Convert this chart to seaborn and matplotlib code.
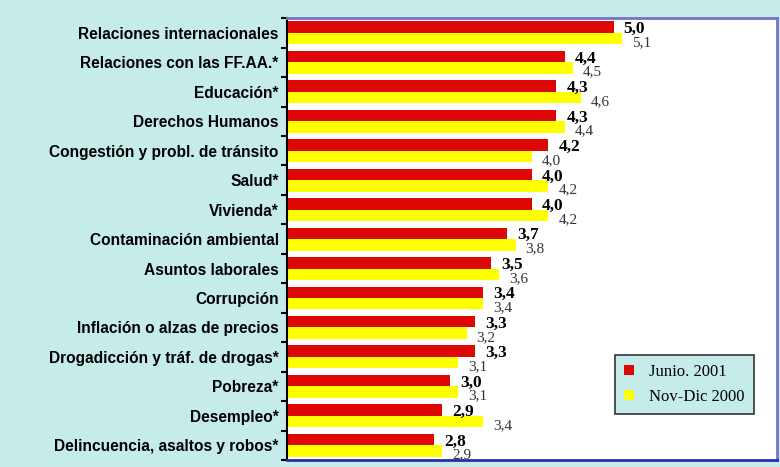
import numpy as np
import pandas as pd
import matplotlib
matplotlib.use('Agg')
import matplotlib.pyplot as plt
import seaborn as sns
from matplotlib.ticker import FixedLocator

temas = [
    'Relaciones internacionales',
    'Relaciones con las FF.AA.*',
    'Educación*',
    'Derechos Humanos',
    'Congestión y probl. de tránsito',
    'Salud*',
    'Vivienda*',
    'Contaminación ambiental',
    'Asuntos laborales',
    'Corrupción',
    'Inflación o alzas de precios',
    'Drogadicción y tráf. de drogas*',
    'Pobreza*',
    'Desempleo*',
    'Delincuencia, asaltos y robos*',
]
junio_2001 = [5.0, 4.4, 4.3, 4.3, 4.2, 4.0, 4.0, 3.7, 3.5, 3.4, 3.3, 3.3, 3.0, 2.9, 2.8]
nov_dic_2000 = [5.1, 4.5, 4.6, 4.4, 4.0, 4.2, 4.2, 3.8, 3.6, 3.4, 3.2, 3.1, 3.1, 3.4, 2.9]
periodos = ['Junio. 2001', 'Nov-Dic 2000']

BG = '#c6ecea'
ROJO = '#dd0806'
AMARILLO = '#ffff00'

df = pd.DataFrame({
    'tema': temas * 2,
    'valor': junio_2001 + nov_dic_2000,
    'periodo': [periodos[0]] * len(temas) + [periodos[1]] * len(temas),
})

fig = plt.figure(figsize=(7.8, 4.67), dpi=100, facecolor=BG)
ax = fig.add_axes([0.368, 0.015, 0.628, 0.946])
ax.set_facecolor('white')

sns.barplot(data=df, y='tema', x='valor', hue='periodo', orient='h',
            palette=[ROJO, AMARILLO], width=0.78, saturation=1,
            linewidth=0, ax=ax)

ax.set_xlim(1, 7)
ax.set_ylim(len(temas) - 0.5, -0.5)
ax.set_xlabel('')
ax.set_ylabel('')
ax.set_xticks([])

# value labels with comma decimal
for i, cont in enumerate(ax.containers):
    for bar, v in zip(cont, [junio_2001, nov_dic_2000][i]):
        y = bar.get_y() + bar.get_height() / 2
        txt = f'{v:.1f}'.replace('.', ',')
        if i == 0:
            ax.annotate(txt, (bar.get_width(), y), xytext=(10, -2),
                        textcoords='offset pixels', va='center', ha='left',
                        fontsize=12.5, fontweight='bold', family='Liberation Serif',
                        color='black', annotation_clip=False)
        else:
            ax.annotate(txt, (bar.get_width(), y), xytext=(10, -4),
                        textcoords='offset pixels', va='center', ha='left',
                        fontsize=11, family='Liberation Serif',
                        color='#333333', annotation_clip=False)

ax.tick_params(axis='y', which='major', length=0, pad=6,
               labelsize=11.2)
for lab in ax.get_yticklabels():
    lab.set_fontweight('bold')
    lab.set_family('Liberation Sans')
ax.yaxis.set_minor_locator(FixedLocator(np.arange(-0.5, len(temas), 1)))
ax.tick_params(axis='y', which='minor', length=4, width=1.5, color='black', direction='out')

ax.spines['left'].set_color('black')
ax.spines['left'].set_linewidth(1.5)
ax.spines['top'].set_color('#7373c8')
ax.spines['right'].set_color('#7373c8')
ax.spines['bottom'].set_color('#2b2bb0')
for s in ['top', 'right', 'bottom']:
    ax.spines[s].set_linewidth(2)

leg = ax.legend(loc='lower right', bbox_to_anchor=(0.953, 0.104),
                borderaxespad=0,
                frameon=True, fancybox=False, facecolor=BG, edgecolor='#333333',
                prop={'family': 'Liberation Serif', 'size': 12},
                handlelength=0.6, handleheight=0.6, handletextpad=0.9,
                borderpad=0.55, labelspacing=0.55)
leg.get_frame().set_linewidth(1.2)
leg.get_frame().set_alpha(1)

fig.savefig('out.png', dpi=100, facecolor=BG)
